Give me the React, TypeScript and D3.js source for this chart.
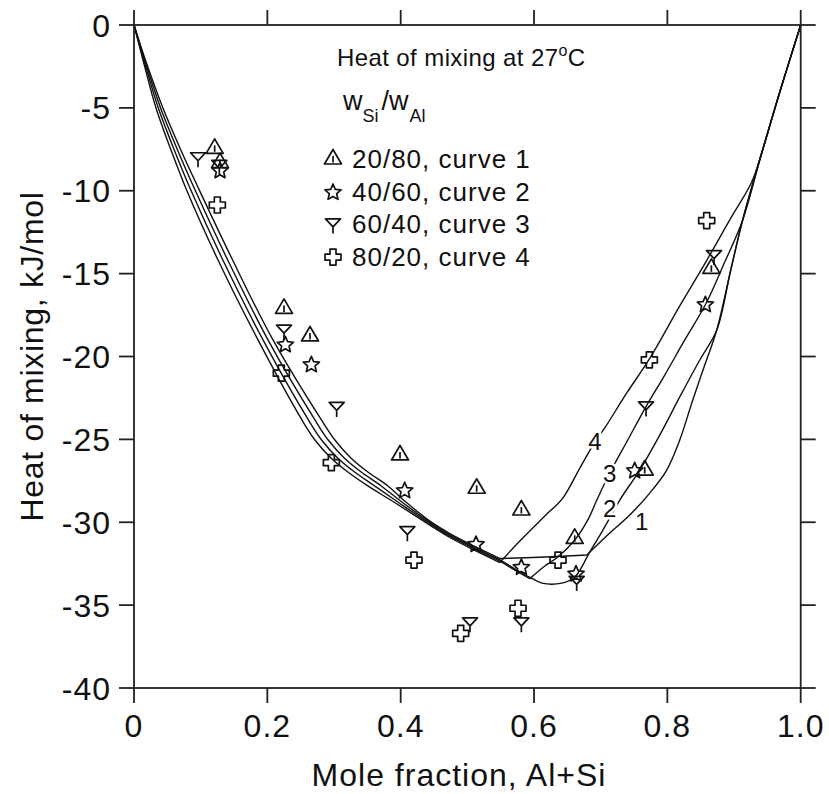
import React from 'react';
import * as d3 from 'd3';

const WIDTH = 829;
const HEIGHT = 794;
const FONT = '"Liberation Sans", Arial, Helvetica, sans-serif';

// ---- axes ----
const xTickValues = [0, 0.2, 0.4, 0.6, 0.8, 1.0];
const xTickLabels = ['0', '0.2', '0.4', '0.6', '0.8', '1.0'];
const yTickValues = [0, -5, -10, -15, -20, -25, -30, -35, -40];
const yTickLabels = ['0', '-5', '-10', '-15', '-20', '-25', '-30', '-35', '-40'];

// ---- model curves (x = mole fraction Al+Si, y = heat of mixing kJ/mol) ----
const curve1: [number, number][] = [
  [0, 0], [0.0171, -2.11], [0.0434, -5.01], [0.0702, -7.54], [0.0987, -10.02], [0.1479, -14.18],
  [0.2085, -19.0], [0.2811, -23.83], [0.3013, -25.04], [0.3253, -26.12], [0.3508, -26.97],
  [0.3808, -27.81], [0.4078, -28.78],
  [0.4438, -29.93], [0.4738, -30.68], [0.5112, -31.46], [0.5487, -32.19],
  [0.6162, -32.1], [0.6792, -31.98],
  [0.7136, -30.65], [0.7436, -29.56], [0.7736, -28.24], [0.7991, -26.85], [0.8186, -25.04],
  [0.8381, -22.62], [0.8561, -20.51], [0.8741, -18.4], [0.8951, -14.78], [0.913, -11.76],
  [0.9415, -7.72], [0.97, -3.86], [1, 0],
];
const curve1Corners = [0.5487, 0.6792];

const curve2: [number, number][] = [
  [0, 0], [0.0159, -2.11], [0.0399, -5.01], [0.0653, -7.54], [0.0923, -10.02], [0.1406, -14.18],
  [0.201, -19.0], [0.2714, -23.83], [0.2913, -25.04], [0.3153, -26.12], [0.3408, -26.97],
  [0.3708, -27.81], [0.4018, -28.78],
  [0.4438, -30.01], [0.4738, -30.76], [0.5112, -31.54], [0.5487, -32.27], [0.5712, -32.81],
  [0.5937, -33.32], [0.6117, -33.67], [0.6417, -33.67], [0.6612, -33.3], [0.6837, -31.79],
  [0.7016, -30.59], [0.7136, -29.74], [0.7286, -28.66], [0.7586, -26.85], [0.7886, -24.74],
  [0.8186, -22.44], [0.8486, -20.21], [0.8741, -18.4], [0.8951, -14.78], [0.913, -11.76],
  [0.9415, -7.72], [0.97, -3.86], [1, 0],
];
const curve2Corners: number[] = [];

const curve3: [number, number][] = [
  [0, 0], [0.0147, -2.11], [0.0365, -5.01], [0.0604, -7.54], [0.0859, -10.02], [0.1333, -14.18],
  [0.1935, -19.0], [0.2616, -23.83], [0.2814, -25.04], [0.3054, -26.12], [0.3309, -26.97],
  [0.3609, -27.81], [0.3958, -28.78],
  [0.4438, -30.09], [0.4738, -30.84], [0.5112, -31.62], [0.5487, -32.35], [0.5712, -32.89],
  [0.5937, -33.4],
  [0.6162, -32.64], [0.6357, -32.1], [0.6612, -31.07], [0.6807, -29.86], [0.6942, -28.66],
  [0.7136, -27.03], [0.7406, -25.04], [0.7676, -23.05], [0.7961, -21.12], [0.8261, -19.0],
  [0.8576, -16.83], [0.8861, -14.3], [0.913, -11.76], [0.9415, -7.72], [0.97, -3.86], [1, 0],
];
const curve3Corners = [0.5937];

const curve4: [number, number][] = [
  [0, 0], [0.0135, -2.11], [0.033, -5.01], [0.0555, -7.54], [0.0795, -10.02], [0.126, -14.18],
  [0.186, -19.0], [0.2519, -23.83], [0.2714, -25.04], [0.2954, -26.12], [0.3208, -26.97],
  [0.3508, -27.81], [0.3898, -28.78],
  [0.4438, -30.17], [0.4738, -30.92], [0.5112, -31.7], [0.5487, -32.43],
  [0.5787, -31.13], [0.6162, -29.62], [0.6432, -28.54], [0.6687, -26.73], [0.6912, -25.16],
  [0.7061, -24.31], [0.7391, -22.2], [0.7721, -20.21], [0.8186, -16.95], [0.8576, -14.3],
  [0.8936, -11.76], [0.9265, -9.47], [0.9415, -7.72], [0.97, -3.86], [1, 0],
];
const curve4Corners = [0.5487];

// ---- experimental points ----
const triangles2080: [number, number][] = [
  [0.121, -7.44], [0.129, -8.3], [0.225, -17.1], [0.264, -18.76], [0.399, -25.94],
  [0.514, -27.95], [0.581, -29.26], [0.661, -30.97], [0.766, -26.85], [0.866, -14.68],
];
const stars4060: [number, number][] = [
  [0.129, -8.75], [0.227, -19.25], [0.266, -20.45], [0.406, -28.05], [0.513, -31.3],
  [0.581, -32.68], [0.663, -33.08], [0.751, -26.85], [0.857, -16.83],
];
const ymarks6040: [number, number][] = [
  [0.096, -8.04], [0.128, -8.5], [0.225, -18.44], [0.304, -23.1], [0.41, -30.6],
  [0.504, -36.1], [0.581, -36.1], [0.664, -33.6], [0.768, -23.07], [0.87, -13.94],
];
const crosses8020: [number, number][] = [
  [0.125, -10.86], [0.221, -21.0], [0.296, -26.4], [0.42, -32.28], [0.49, -36.7],
  [0.576, -35.19], [0.636, -32.28], [0.773, -20.2], [0.859, -11.8],
];

// ---- legend & labels ----
const legendLabels = ['20/80, curve 1', '40/60, curve 2', '60/40, curve 3', '80/20, curve 4'];
const legendSymbols = ['triangle', 'star', 'ymark', 'cross'];
const curveLabels = ['1', '2', '3', '4'];
const curveLabelPos: [number, number][] = [
  [0.7616, -29.97], [0.7136, -29.16], [0.7136, -27.05], [0.6912, -25.14],
];

// ---- scales ----
const x = d3.scaleLinear().domain([0, 1]).range([134, 800.7]);
const y = d3.scaleLinear().domain([-40, 0]).range([688, 25]);

const line = d3
  .line<[number, number]>()
  .x((d) => x(d[0]))
  .y((d) => y(d[1]))
  .curve(d3.curveCatmullRom.alpha(0.5));

function buildPath(pts: [number, number][], corners: number[]): string {
  const segs: [number, number][][] = [];
  let cur: [number, number][] = [];
  pts.forEach((p) => {
    cur.push(p);
    if (corners.some((c) => Math.abs(c - p[0]) < 1e-6)) {
      segs.push(cur);
      cur = [p];
    }
  });
  segs.push(cur);
  return segs
    .filter((s) => s.length > 1)
    .map((s) => line(s) || '')
    .join(' ');
}

// ---- marker shapes ----
const trianglePath = 'M0,-9.5L8.5,5L-8.5,5Z';
const triangleInner = 'M0,-3L0,3.5';
const starPath = (() => {
  const pts: string[] = [];
  for (let i = 0; i < 10; i++) {
    const r = i % 2 === 0 ? 8.5 : 3.9;
    const a = -Math.PI / 2 + (i * Math.PI) / 5;
    pts.push(`${(r * Math.cos(a)).toFixed(2)},${(r * Math.sin(a) + 0.8).toFixed(2)}`);
  }
  return 'M' + pts.join('L') + 'Z';
})();
const ymarkPath = 'M-7.5,-5.5L7.5,-5.5L0,2.5ZM0,2.5L0,9';
const crossPath = 'M-3,-8H3V-3H8V3H3V8H-3V3H-8V-3H-3Z';

function Marker({ kind, cx, cy }: { kind: string; cx: number; cy: number }) {
  const common = {
    fill: 'none',
    stroke: '#111',
    strokeWidth: 1.7,
    strokeLinejoin: 'round' as const,
  };
  const t = `translate(${cx},${cy})`;
  if (kind === 'triangle')
    return (
      <g transform={t}>
        <path d={trianglePath} {...common} />
        <path d={triangleInner} {...common} />
      </g>
    );
  if (kind === 'star') return <path transform={t} d={starPath} {...common} />;
  if (kind === 'ymark') return <path transform={t} d={ymarkPath} {...common} />;
  return <path transform={t} d={crossPath} {...common} />;
}

export default function App() {
  const curves = [
    { pts: curve1, corners: curve1Corners },
    { pts: curve2, corners: curve2Corners },
    { pts: curve3, corners: curve3Corners },
    { pts: curve4, corners: curve4Corners },
  ];
  const series = [
    { kind: 'triangle', pts: triangles2080 },
    { kind: 'star', pts: stars4060 },
    { kind: 'ymark', pts: ymarks6040 },
    { kind: 'cross', pts: crosses8020 },
  ];
  const x0 = x(0);
  const x1 = x(1);
  const yTop = y(0);
  const yBot = y(-40);
  const tick = 15;
  const axisStyle = { stroke: '#222', strokeWidth: 1.8, fill: 'none' };

  return (
    <svg
      width={WIDTH}
      height={HEIGHT}
      viewBox={`0 0 ${WIDTH} ${HEIGHT}`}
      style={{ position: 'absolute', left: 0, top: 0, background: '#fff' }}
      fontFamily={FONT}
    >
      <rect x={0} y={0} width={WIDTH} height={HEIGHT} fill="#fff" />

      {/* curves */}
      {curves.map((c, i) => (
        <path
          key={'c' + i}
          d={buildPath(c.pts, c.corners)}
          fill="none"
          stroke="#111"
          strokeWidth={1.4}
          strokeLinejoin="round"
        />
      ))}

      {/* curve labels with halo */}
      {curveLabels.map((lab, i) => (
        <text
          key={'cl' + i}
          x={x(curveLabelPos[i][0])}
          y={y(curveLabelPos[i][1]) + 8.5}
          fontSize={24}
          textAnchor="middle"
          fill="#111"
          stroke="#fff"
          strokeWidth={5}
          paintOrder="stroke"
        >
          {lab}
        </text>
      ))}

      {/* data points */}
      {series.map((s) =>
        s.pts.map((p, j) => (
          <Marker key={s.kind + j} kind={s.kind} cx={x(p[0])} cy={y(p[1])} />
        ))
      )}

      {/* frame */}
      <rect x={x0} y={yTop} width={x1 - x0} height={yBot - yTop} {...axisStyle} />
      {xTickValues.map((v, i) => (
        <g key={'xt' + i}>
          <line x1={x(v)} x2={x(v)} y1={yBot} y2={yBot + tick} {...axisStyle} />
          <line x1={x(v)} x2={x(v)} y1={yTop} y2={yTop - tick} {...axisStyle} />
          <text
            x={x(v)}
            y={737}
            fontSize={32}
            textAnchor="middle"
            fill="#111"
            style={{ letterSpacing: '1px' }}
          >
            {xTickLabels[i]}
          </text>
        </g>
      ))}
      {yTickValues.map((v, i) => (
        <g key={'yt' + i}>
          <line x1={x0} x2={x0 - tick} y1={y(v)} y2={y(v)} {...axisStyle} />
          <line x1={x1} x2={x1 + tick} y1={y(v)} y2={y(v)} {...axisStyle} />
          <text
            x={111}
            y={y(v) + 11.5}
            fontSize={32}
            textAnchor="end"
            fill="#111"
            style={{ letterSpacing: '1px' }}
          >
            {yTickLabels[i]}
          </text>
        </g>
      ))}

      {/* axis titles */}
      <text
        x={459}
        y={786}
        fontSize={32}
        textAnchor="middle"
        fill="#111"
        style={{ letterSpacing: '1px' }}
      >
        Mole fraction, Al+Si
      </text>
      <text
        transform={`translate(43,${(yTop + yBot) / 2}) rotate(-90)`}
        fontSize={32}
        textAnchor="middle"
        fill="#111"
        style={{ letterSpacing: '0.7px' }}
      >
        Heat of mixing, kJ/mol
      </text>

      {/* legend */}
      <text x={337} y={66} fontSize={24} fill="#111" style={{ letterSpacing: '0.4px' }}>
        Heat of mixing at 27
        <tspan fontSize={16} dy={-10}>
          o
        </tspan>
        <tspan dy={10}>C</tspan>
      </text>
      <text x={343} y={110} fontSize={27} fill="#111">
        w
        <tspan fontSize={18} dy={12}>
          Si
        </tspan>
        <tspan dy={-12} dx={3}>
          /w
        </tspan>
        <tspan fontSize={18} dy={12} dx={1}>
          Al
        </tspan>
      </text>
      {legendLabels.map((lab, i) => {
        const base = 168 + i * 32.7;
        return (
          <g key={'lg' + i}>
            <Marker kind={legendSymbols[i]} cx={333} cy={base - 9} />
            <text x={352} y={base} fontSize={26} fill="#111" style={{ letterSpacing: '1px' }}>
              {lab}
            </text>
          </g>
        );
      })}
    </svg>
  );
}
